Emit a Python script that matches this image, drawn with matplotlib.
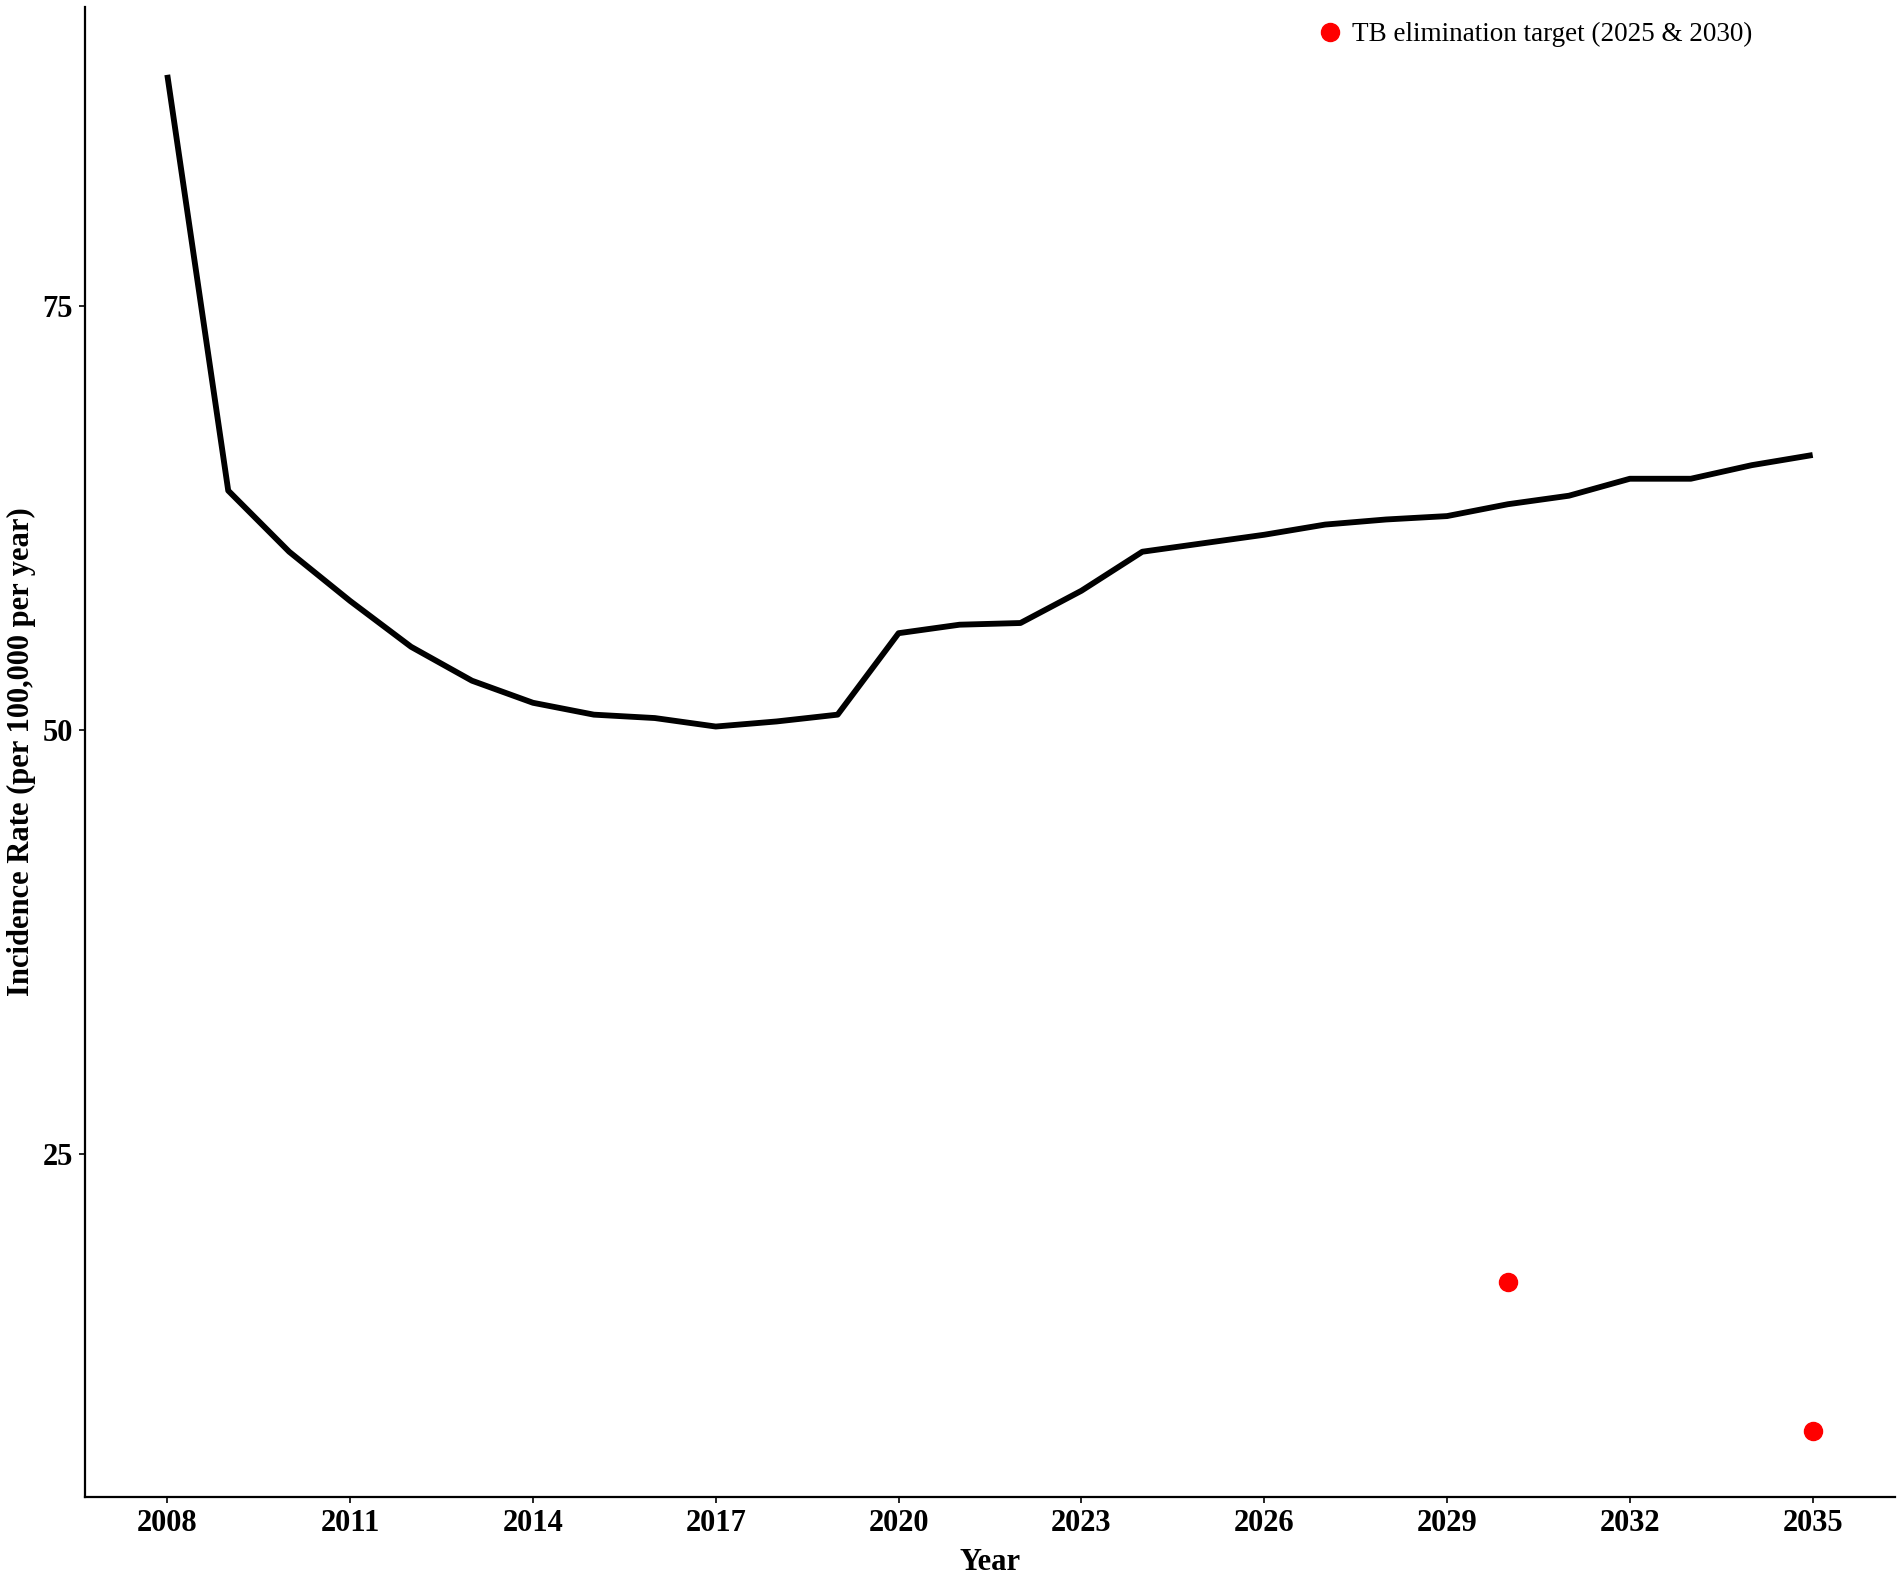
import matplotlib
matplotlib.use('Agg')
import matplotlib.pyplot as plt

years = list(range(2008, 2036))
incidence = [88.6, 64.1, 60.5, 57.6, 54.9, 52.9, 51.6, 50.9, 50.7, 50.2,
             50.5, 50.9, 55.7, 56.2, 56.3, 58.2, 60.5, 61.0, 61.5, 62.1,
             62.4, 62.6, 63.3, 63.8, 64.8, 64.8, 65.6, 66.2]

target_years = [2030, 2035]
target_values = [17.5, 8.7]

x_ticks = [2008, 2011, 2014, 2017, 2020, 2023, 2026, 2029, 2032, 2035]
y_ticks = [25, 50, 75]

plt.rcParams['font.family'] = ['Liberation Serif', 'DejaVu Serif']

fig = plt.figure(figsize=(19.02, 15.77), dpi=100)
ax = fig.add_axes([0.0447, 0.0507, 0.9516, 0.9449])

ax.plot(years, incidence, color='black', lw=4.2, solid_capstyle='butt')
ax.plot(target_years, target_values, 'o', color='#ff0000', ms=13,
        label='TB elimination target (2025 & 2030)')

ax.set_xlim(2006.65, 2036.35)
ax.set_ylim(4.8, 92.6)
ax.set_xticks(x_ticks)
ax.set_yticks(y_ticks)

for s in ['top', 'right']:
    ax.spines[s].set_visible(False)
for s in ['left', 'bottom']:
    ax.spines[s].set_linewidth(1.6)

ax.tick_params(length=4.5, width=1.2, labelsize=22, pad=4)
for t in ax.get_xticklabels() + ax.get_yticklabels():
    t.set_fontweight('bold')

ax.set_xlabel('Year', fontsize=22, fontweight='bold')
ax.set_ylabel('Incidence Rate (per 100,000 per year)', fontsize=22,
              fontweight='bold')
ax.xaxis.set_label_coords(0.5, -0.034)
ax.yaxis.set_label_coords(-0.027, 0.5)

ax.legend(loc='upper left', bbox_to_anchor=(0.6746, 0.997), frameon=False,
          fontsize=19.5, handlelength=1.0, handletextpad=0.3, borderaxespad=0)

fig.savefig('out.png', dpi=100)
